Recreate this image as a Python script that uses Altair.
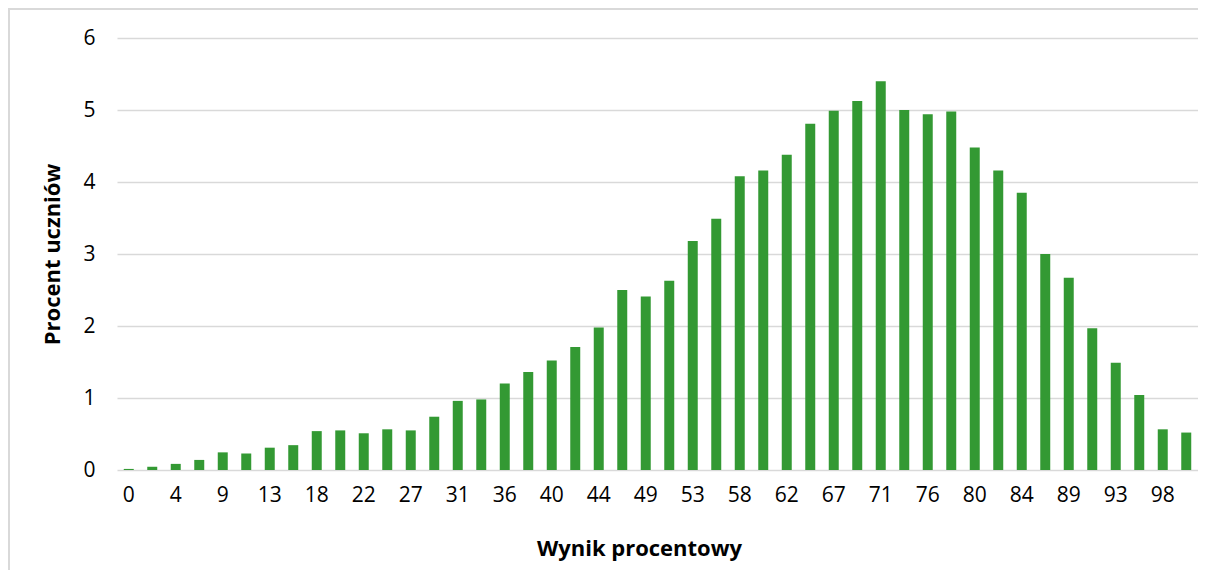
import altair as alt
import pandas as pd

scores = [0, 2, 4, 7, 9, 11, 13, 16, 18, 20, 22, 24, 27, 29, 31, 33, 36, 38, 40, 42,
          44, 47, 49, 51, 53, 56, 58, 60, 62, 64, 67, 69, 71, 73, 76, 78, 80, 82, 84,
          87, 89, 91, 93, 96, 98, 100]
percent = [0.015, 0.045, 0.085, 0.14, 0.245, 0.23, 0.31, 0.345, 0.54, 0.55, 0.51, 0.565,
           0.55, 0.74, 0.96, 0.98, 1.20, 1.36, 1.52, 1.71, 1.98, 2.50, 2.41, 2.63, 3.18,
           3.49, 4.08, 4.16, 4.38, 4.81, 4.99, 5.125, 5.40, 5.00, 4.94, 4.98, 4.48, 4.16,
           3.85, 3.00, 2.67, 1.97, 1.49, 1.04, 0.565, 0.52]

labels = [str(s) for s in scores]
shown = labels[::2]

df = pd.DataFrame({"score": labels, "pct": percent})

FONT = "Open Sans"
GREEN = "#339933"
GRID = "#d9d9d9"

bars = alt.Chart(df).mark_bar(color=GREEN).encode(
    x=alt.X("score:N", sort=labels,
            scale=alt.Scale(paddingInner=0.575, paddingOuter=0.2875),
            axis=alt.Axis(title="Wynik procentowy", values=shown, labelAngle=0,
                          domain=False, ticks=False, grid=False, labelPadding=14,
                          titlePadding=33, titleX=522, labelFontSize=21,
                          titleFontSize=22, titleFontWeight="bold",
                          labelColor="#000000", titleColor="#000000",
                          labelFont=FONT, titleFont=FONT)),
    y=alt.Y("pct:Q", scale=alt.Scale(domain=[0, 6]),
            axis=alt.Axis(title="Procent uczniów", values=[0, 1, 2, 3, 4, 5, 6],
                          domain=False, ticks=False, labelPadding=22,
                          titlePadding=18, grid=True, gridColor=GRID, gridWidth=1.5,
                          labelFontSize=21, titleFontSize=22, titleFontWeight="bold",
                          labelColor="#000000", titleColor="#000000",
                          labelFont=FONT, titleFont=FONT)),
)

top_edge = alt.Chart(pd.DataFrame({"b": [0]})).mark_rule(
    color=GRID, strokeWidth=2
).encode(x=alt.value(-109), x2=alt.value(1300), y=alt.value(-29))
left_edge = alt.Chart(pd.DataFrame({"b": [0]})).mark_rule(
    color=GRID, strokeWidth=2
).encode(x=alt.value(-108), y=alt.value(-30), y2=alt.value(700))

chart = (
    alt.layer(top_edge, left_edge, bars)
    .properties(
        width=1081, height=432,
        autosize=alt.AutoSizeParams(type="none"),
        padding={"left": 109, "top": 30, "right": 0, "bottom": 100},
    )
    .configure(background="#ffffff")
    .configure_view(strokeOpacity=0, strokeWidth=0)
    .configure_axis(domain=False, ticks=False, domainOpacity=0, tickOpacity=0)
)

chart.save("out.html", embed_options={"renderer": "svg", "actions": False})
